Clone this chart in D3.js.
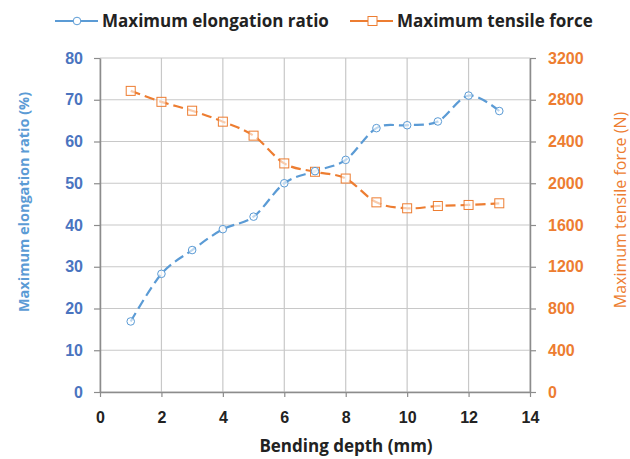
<!DOCTYPE html>
<html>
<head>
<meta charset="utf-8">
<script src="https://cdn.jsdelivr.net/npm/d3@7"></script>
<style>
  body { margin: 0; background: #fff; }
  svg { font-family: 'Open Sans', 'Liberation Sans', sans-serif; }
</style>
</head>
<body>
<div id="chart"></div>
<script>
// data
let depth = [1, 2, 3, 4, 5, 6, 7, 8, 9, 10, 11, 12, 13];
let elongation = [16.9, 28.3, 34, 39, 42, 50, 52.9, 55.6, 63.2, 63.9, 64.8, 71, 67.3];
let tensile = [2885, 2780, 2695, 2590, 2456, 2190, 2110, 2045, 1817, 1760, 1782, 1792, 1808];
let xTicks = [0, 2, 4, 6, 8, 10, 12, 14];
let yLeftTicks = [0, 10, 20, 30, 40, 50, 60, 70, 80];
let yRightTicks = [0, 400, 800, 1200, 1600, 2000, 2400, 2800, 3200];

let svg_width = 630;
let svg_height = 459;
let margin = { top: 58, right: 100, bottom: 67, left: 100 };
let width = svg_width - margin.left - margin.right;
let height = svg_height - margin.top - margin.bottom;

let blue = '#5b9bd5';
let blueText = '#4a74bf';
let orange = '#ed7d31';
let gridColor = '#c8c8c8';
let axisColor = '#8c8c8c';

let svg = d3.select('#chart').append('svg')
  .attr('width', svg_width)
  .attr('height', svg_height);

let g = svg.append('g')
  .attr('transform', `translate(${margin.left}, ${margin.top})`);

let x = d3.scaleLinear().domain([0, 14]).range([0, width]);
let yL = d3.scaleLinear().domain([0, 80]).range([height, 0]);
let yR = d3.scaleLinear().domain([0, 3200]).range([height, 0]);

// grid
g.append('g').selectAll('line')
  .data(yLeftTicks)
  .enter().append('line')
  .attr('x1', 0).attr('x2', width)
  .attr('y1', d => yL(d)).attr('y2', d => yL(d))
  .attr('stroke', gridColor).attr('stroke-width', 1.2);

g.append('g').selectAll('line')
  .data(xTicks)
  .enter().append('line')
  .attr('x1', d => x(d)).attr('x2', d => x(d))
  .attr('y1', 0).attr('y2', height)
  .attr('stroke', gridColor).attr('stroke-width', 1.2);

// axes
function styleAxis(sel, color, weight) {
  sel.select('.domain').attr('stroke', axisColor).attr('stroke-width', 1.5);
  sel.selectAll('.tick line').attr('stroke', axisColor).attr('stroke-width', 1.2);
  sel.selectAll('.tick text')
    .attr('fill', color)
    .attr('font-size', '16px')
    .attr('font-weight', weight);
}

let xAxis = g.append('g')
  .attr('transform', `translate(0, ${height})`)
  .call(d3.axisBottom(x).tickValues(xTicks).tickSize(5).tickSizeOuter(0).tickPadding(15));
styleAxis(xAxis, '#222', 'bold');

let leftAxis = g.append('g')
  .call(d3.axisLeft(yL).tickValues(yLeftTicks).tickSize(6).tickSizeOuter(0).tickPadding(11));
styleAxis(leftAxis, blueText, 'bold');

let rightAxis = g.append('g')
  .attr('transform', `translate(${width}, 0)`)
  .call(d3.axisRight(yR).tickValues(yRightTicks).tickFormat(d3.format('d'))
    .tickSize(6).tickSizeOuter(0).tickPadding(12));
styleAxis(rightAxis, orange, 'bold');

// lines
let curve = d3.curveCatmullRom.alpha(0);

let elongLine = d3.line()
  .x((d, i) => x(depth[i]))
  .y(d => yL(d))
  .curve(curve);

let tensileLine = d3.line()
  .x((d, i) => x(depth[i]))
  .y(d => yR(d))
  .curve(curve);

g.append('path')
  .attr('d', tensileLine(tensile))
  .attr('fill', 'none')
  .attr('stroke', orange)
  .attr('stroke-width', 2.2)
  .attr('stroke-dasharray', '10,5');

g.append('path')
  .attr('d', elongLine(elongation))
  .attr('fill', 'none')
  .attr('stroke', blue)
  .attr('stroke-width', 2.2)
  .attr('stroke-dasharray', '10,5');

// markers
g.append('g').selectAll('rect')
  .data(tensile)
  .enter().append('rect')
  .attr('x', (d, i) => x(depth[i]) - 4.5)
  .attr('y', d => yR(d) - 4.5)
  .attr('width', 9).attr('height', 9)
  .attr('fill', '#fff')
  .attr('fill-opacity', 0.6)
  .attr('stroke', orange)
  .attr('stroke-width', 1);

g.append('g').selectAll('circle')
  .data(elongation)
  .enter().append('circle')
  .attr('cx', (d, i) => x(depth[i]))
  .attr('cy', d => yL(d))
  .attr('r', 3.8)
  .attr('fill', '#fff')
  .attr('fill-opacity', 0.6)
  .attr('stroke', blue)
  .attr('stroke-width', 1);

// axis titles
svg.append('text')
  .attr('x', 346)
  .attr('y', 452)
  .attr('text-anchor', 'middle')
  .attr('font-size', '17px')
  .attr('font-weight', 'bold')
  .attr('fill', '#222')
  .text('Bending depth (mm)');

svg.append('text')
  .attr('transform', 'translate(29, 202) rotate(-90)')
  .attr('text-anchor', 'middle')
  .attr('font-size', '14.5px')
  .attr('font-weight', 'bold')
  .attr('fill', blue)
  .text('Maximum elongation ratio (%)');

svg.append('text')
  .attr('transform', 'translate(626, 210) rotate(-90)')
  .attr('text-anchor', 'middle')
  .attr('font-size', '16px')
  .attr('fill', orange)
  .text('Maximum tensile force (N)');

// legend
let legend = svg.append('g');
let legendItems = [
  { label: 'Maximum elongation ratio', color: blue, shape: 'circle', x: 55 },
  { label: 'Maximum tensile force', color: orange, shape: 'square', x: 350 }
];
legendItems.forEach(function(item) {
  let lg = legend.append('g').attr('transform', `translate(${item.x}, 21)`);
  lg.append('line')
    .attr('x1', 0).attr('x2', 43)
    .attr('y1', 0).attr('y2', 0)
    .attr('stroke', item.color).attr('stroke-width', 2);
  if (item.shape === 'circle') {
    lg.append('circle').attr('cx', 22).attr('cy', 0).attr('r', 3.8)
      .attr('fill', '#fff').attr('stroke', item.color);
  } else {
    lg.append('rect').attr('x', 18).attr('y', -4.5).attr('width', 9).attr('height', 9)
      .attr('fill', '#fff').attr('stroke', item.color);
  }
  lg.append('text')
    .attr('x', 47).attr('y', 6)
    .attr('font-size', '17px')
    .attr('font-weight', 'bold')
    .attr('fill', '#222')
    .text(item.label);
});
</script>
</body>
</html>
